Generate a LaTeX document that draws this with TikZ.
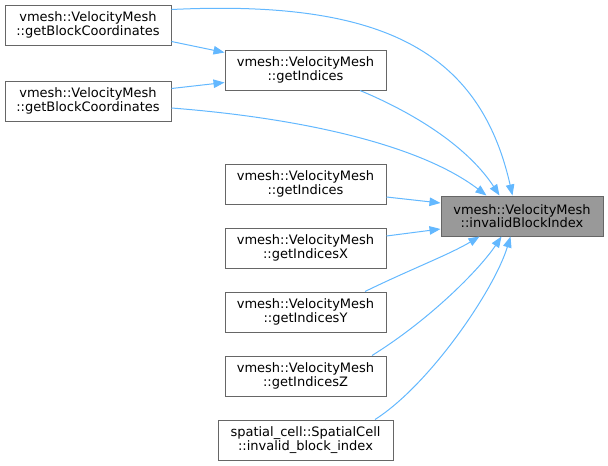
\documentclass[tikz,border=0pt]{standalone}
\usepackage{fontspec}
\setmainfont{DejaVu Sans}
\usetikzlibrary{arrows.meta}
\definecolor{edgeblue}{HTML}{63B8FF}
\definecolor{boxline}{HTML}{666666}
\definecolor{boxfill}{HTML}{999999}
\begin{document}
\begin{tikzpicture}[x=1pt,y=-1pt,
	fn/.style={draw=boxline,line width=1pt,minimum height=40pt,inner sep=0pt,align=center,font=\fontsize{13}{13.5}\selectfont},
	call/.style={draw=edgeblue,line width=1pt,-{Triangle[length=11pt,width=8.5pt]}}]
	%
	\useasboundingbox (0,0) rectangle (608,466);
	\def\colB{305.5}
	\def\wB{161pt}
	%
	% the called function
	\node [fn,fill=boxfill,minimum width=162pt] (target) at (522,216) {vmesh::VelocityMesh\\::invalidBlockIndex};
	%
	% callers
	\node [fn,minimum width=166pt] (bc1) at (88,25) {vmesh::VelocityMesh\\::getBlockCoordinates};
	\node [fn,minimum width=166pt] (bc2) at (88,101) {vmesh::VelocityMesh\\::getBlockCoordinates};
	\node [fn,minimum width=\wB] (gidx) at (\colB,70) {vmesh::VelocityMesh\\::getIndices};
	\foreach \y/\name/\label in {184/gi/getIndices,248/gix/getIndicesX,312/giy/getIndicesY,376/giz/getIndicesZ}
		\node [fn,minimum width=\wB] (\name) at (\colB,\y) {vmesh::VelocityMesh\\::\label};
	\node [fn,minimum width=175pt] (sc) at (\colB,440) {spatial\_cell::SpatialCell\\::invalid\_block\_index};
	%
	% calls
	\draw [call] ([yshift=-5]bc1.north east) .. controls +(209,-10) and +(-33,-146) .. ([xshift=72]target.north west);
	\draw [call] ([yshift=4]bc1.south east) -- ([yshift=-3]gidx.north west);
	\draw [call] ([yshift=-8]bc2.north east) -- ([yshift=8]gidx.south west);
	\draw [call] ([yshift=-7]bc2.east) .. controls +(129,10) and +(-67,-51) .. ([xshift=46]target.north west);
	\draw [call] ([xshift=54.5]gidx.south) .. controls +(60,25) and +(-30,-46) .. ([xshift=59]target.north west);
	\draw [call] ([yshift=-13]gi.east) -- ([yshift=13]target.west);
	\draw [call] ([yshift=12]gix.east) -- ([yshift=-13]target.west);
	\draw [call] ([xshift=59.5]giy.north) .. controls +(45,-22) and +(-30,18) .. ([xshift=39]target.south west);
	\draw [call] ([xshift=66.5]giz.north) .. controls +(58,-36) and +(-22,33) .. ([xshift=61]target.south west);
	\draw [call] ([xshift=69.5]sc.north) .. controls +(55,-35) and +(-16,53) .. ([xshift=70]target.south west);
\end{tikzpicture}
\end{document}
